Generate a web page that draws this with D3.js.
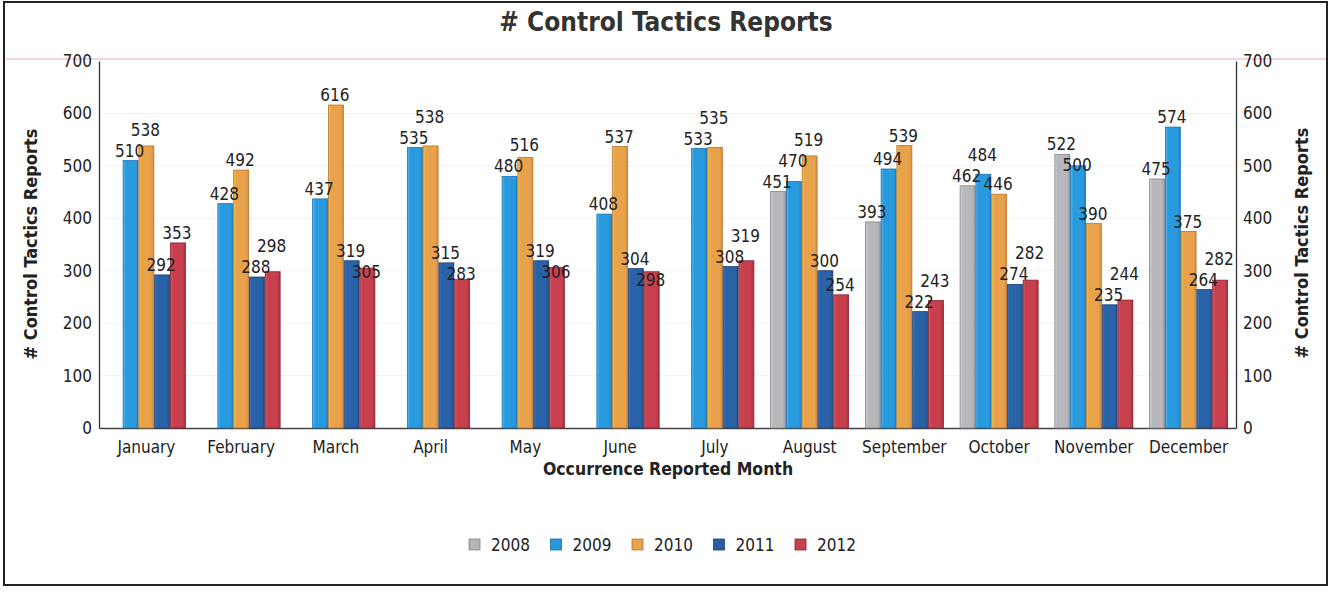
<!DOCTYPE html>
<html>
<head>
<meta charset="utf-8">
<script src="https://cdn.jsdelivr.net/npm/d3@7/dist/d3.min.js"></script>
<style>
  html, body { margin: 0; padding: 0; background: #fff; }
  svg { display: block; font-family: "DejaVu Sans Condensed", "DejaVu Sans", sans-serif; }
</style>
</head>
<body>
<svg id="chart" width="1331" height="593"></svg>
<script>
// Monthly report counts per year
const months = ["January", "February", "March", "April", "May", "June",
                "July", "August", "September", "October", "November", "December"];
const years = ["2008", "2009", "2010", "2011", "2012"];
const v2008 = [null, null, null, null, null, null, null, 451, 393, 462, 522, 475];
const v2009 = [510, 428, 437, 535, 480, 408, 533, 470, 494, 484, 500, 574];
const v2010 = [538, 492, 616, 538, 516, 537, 535, 519, 539, 446, 390, 375];
const v2011 = [292, 288, 319, 315, 319, 304, 308, 300, 222, 274, 235, 264];
const v2012 = [353, 298, 305, 283, 306, 298, 319, 254, 243, 282, 244, 282];
const yTicks = [0, 100, 200, 300, 400, 500, 600, 700];

const seriesValues = [v2008, v2009, v2010, v2011, v2012];

// colour ramps per year: [left edge, middle, right edge, outline]
const palette = {
  "2008": ["#d2d2d6", "#b8b8bc", "#9c9ca2", "#84848a"],
  "2009": ["#56b6ee", "#2a9ade", "#2086ca", "#1a72b2"],
  "2010": ["#f4c236", "#e8a24c", "#d98c3c", "#bb7430"],
  "2011": ["#3a74bc", "#2a62a8", "#234f8c", "#1d4276"],
  "2012": ["#d65a66", "#c8404e", "#a83040", "#862232"]
};
const legendColor = {
  "2008": "#b4b4b8", "2009": "#2898dc", "2010": "#e8a24c", "2011": "#2a5ea4", "2012": "#c8404e"
};

const svg = d3.select("#chart");
const plot = { left: 99, right: 1236, top: 61, bottom: 428 };
const FONT = "DejaVu Sans Condensed, DejaVu Sans, sans-serif";

// outer frame
svg.append("rect").attr("x", 4).attr("y", 2).attr("width", 1323).attr("height", 583)
  .attr("fill", "#fff").attr("stroke", "#222").attr("stroke-width", 2);

const x0 = d3.scaleBand().domain(months).range([plot.left, plot.right])
  .paddingInner(0.16).paddingOuter(0.08);
const x1 = d3.scaleBand().domain(years).range([0, x0.bandwidth()]).padding(0.05);
const y = d3.scaleLinear().domain([0, 700]).range([plot.bottom, plot.top]);

// bar gradients
const defs = svg.append("defs");
years.forEach(yr => {
  const g = defs.append("linearGradient").attr("id", "grad" + yr)
    .attr("x1", "0%").attr("x2", "100%").attr("y1", "0%").attr("y2", "0%");
  const c = palette[yr];
  g.append("stop").attr("offset", "0%").attr("stop-color", c[0]);
  g.append("stop").attr("offset", "18%").attr("stop-color", c[1]);
  g.append("stop").attr("offset", "80%").attr("stop-color", c[1]);
  g.append("stop").attr("offset", "100%").attr("stop-color", c[2]);
});

// faint horizontal gridlines
svg.append("g").selectAll("line").data(yTicks.slice(1, -1)).join("line")
  .attr("x1", plot.left).attr("x2", plot.right)
  .attr("y1", d => y(d)).attr("y2", d => y(d))
  .attr("stroke", "#f3f3f3").attr("stroke-width", 1);

// top reference line
svg.append("line").attr("x1", 6).attr("x2", 1326)
  .attr("y1", y(700) - 2).attr("y2", y(700) - 2)
  .attr("stroke", "#f2c6d6").attr("stroke-width", 1.5);

// title
svg.append("text").attr("x", 666).attr("y", 31).attr("text-anchor", "middle")
  .attr("font-size", 26).attr("font-weight", "bold").attr("fill", "#333")
  .text("# Control Tactics Reports");

// axes
const leftAxis = d3.axisLeft(y).tickValues(yTicks).tickSize(0).tickPadding(7);
const rightAxis = d3.axisRight(y).tickValues(yTicks).tickSize(0).tickPadding(7);
const gl = svg.append("g").attr("transform", `translate(${plot.left},0)`).call(leftAxis);
const gr = svg.append("g").attr("transform", `translate(${plot.right},0)`).call(rightAxis);
[gl, gr].forEach(g => {
  g.select(".domain").attr("stroke", "#333").attr("stroke-width", 1.3);
  g.selectAll(".tick text").attr("font-size", 17).attr("fill", "#222").attr("font-family", FONT);
});

// x axis baseline and month labels
const xAxis = d3.axisBottom(x0).tickSize(0).tickPadding(13);
const gx = svg.append("g").attr("transform", `translate(0,${plot.bottom})`).call(xAxis);
gx.select(".domain").attr("stroke", "#444").attr("stroke-width", 1.3);
gx.selectAll(".tick text").attr("font-size", 17).attr("fill", "#222").attr("font-family", FONT);

// axis titles
svg.append("text").attr("x", 668).attr("y", 475).attr("text-anchor", "middle")
  .attr("font-size", 17.5).attr("font-weight", "bold").attr("fill", "#222")
  .text("Occurrence Reported Month");
svg.append("text").attr("transform", "translate(37,244) rotate(-90)")
  .attr("text-anchor", "middle").attr("font-size", 18).attr("font-weight", "bold").attr("fill", "#222")
  .text("# Control Tactics Reports");
svg.append("text").attr("transform", "translate(1308,243) rotate(-90)")
  .attr("text-anchor", "middle").attr("font-size", 18).attr("font-weight", "bold").attr("fill", "#222")
  .text("# Control Tactics Reports");

// flatten data
const rows = [];
years.forEach((yr, si) => {
  months.forEach((m, mi) => {
    const v = seriesValues[si][mi];
    if (v !== null) rows.push({ year: yr, month: m, value: v });
  });
});

// bars
svg.append("g").selectAll("rect").data(rows).join("rect")
  .attr("x", d => x0(d.month) + x1(d.year))
  .attr("y", d => y(d.value))
  .attr("width", x1.bandwidth())
  .attr("height", d => y(0) - y(d.value))
  .attr("fill", d => `url(#grad${d.year})`)
  .attr("stroke", d => palette[d.year][3])
  .attr("stroke-width", 0.8);

// label placement: centred above each bar; a label that collides with an
// earlier label of the same month is pushed above it (taller bar) or below it
const LABEL_W = 29, LABEL_H = 20, LABEL_STEP = 21;
const placed = [];
const ordered = rows.slice().sort((a, b) =>
  months.indexOf(a.month) - months.indexOf(b.month) || years.indexOf(a.year) - years.indexOf(b.year));
ordered.forEach(d => {
  d.lx = x0(d.month) + x1(d.year) + x1.bandwidth() / 2 - 1;
  d.ly = y(d.value) - 10;
  const peers = placed.filter(p => p.month === d.month);
  for (let iter = 0; iter < 4; iter++) {
    const hit = peers.find(p => Math.abs(p.lx - d.lx) < LABEL_W && Math.abs(p.ly - d.ly) < LABEL_H);
    if (!hit) break;
    d.ly = d.value >= hit.value ? hit.ly - LABEL_STEP : hit.ly + LABEL_STEP;
  }
  placed.push(d);
});

// value labels
svg.append("g").selectAll("text").data(ordered).join("text")
  .attr("x", d => d.lx)
  .attr("y", d => d.ly)
  .attr("dy", "0.36em")
  .attr("text-anchor", "middle")
  .attr("font-size", 17).attr("fill", "#222")
  .text(d => d.value);

// legend
const legend = svg.append("g");
const legendX = d3.scalePoint().domain(years).range([469, 795]);
years.forEach(yr => {
  const lx = legendX(yr);
  legend.append("rect").attr("x", lx).attr("y", 539).attr("width", 11).attr("height", 11)
    .attr("fill", legendColor[yr]).attr("stroke", palette[yr][3]).attr("stroke-width", 0.8);
  legend.append("text").attr("x", lx + 22).attr("y", 551)
    .attr("font-size", 17).attr("fill", "#222").text(yr);
});
</script>
</body>
</html>
